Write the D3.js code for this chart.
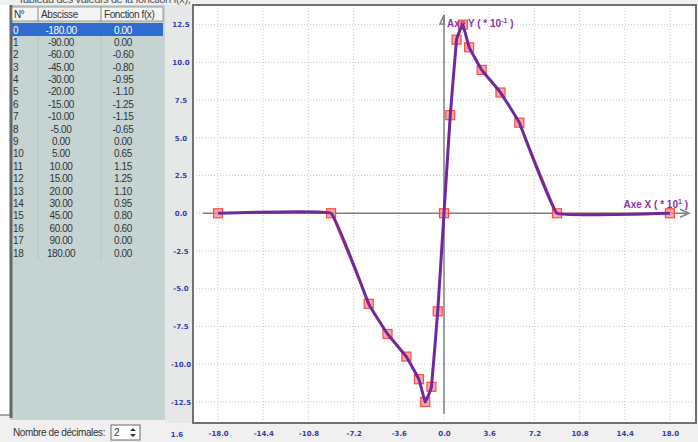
<!DOCTYPE html>
<html lang="fr">
<head>
<meta charset="UTF-8">
<title>Fonction f(x)</title>
<script src="https://d3js.org/d3.v7.min.js"></script>
<style>
  html, body { margin: 0; padding: 0; overflow: hidden; background: #f0f0f0; }
  svg { display: block; }
  .tbl { font-family: "Liberation Sans", Arial, sans-serif; font-size: 10px; fill: #333; letter-spacing: -0.4px; }
  .tick { font-family: "DejaVu Sans", sans-serif; font-size: 7px; font-weight: bold; fill: #3a3ab0; }
  .axlbl { font-family: "Liberation Sans", Arial, sans-serif; font-size: 10px; font-weight: bold; fill: #8a34a8; }
</style>
</head>
<body>
<script>
// table values (as in the reference)
const num = d3.range(0, 19);
const abscisse = [-180, -90, -60, -45, -30, -20, -15, -10, -5, 0, 5, 10, 15, 20, 30, 45, 60, 90, 180];
const fonction = [0, 0, -0.6, -0.8, -0.95, -1.1, -1.25, -1.15, -0.65, 0, 0.65, 1.15, 1.25, 1.1, 0.95, 0.8, 0.6, 0, 0];
// axis scaling : X (*10^1), Y (*10^-1)
const xFactor = 10, yFactor = 0.1;
const xTicks = [-18, -14.4, -10.8, -7.2, -3.6, 0, 3.6, 7.2, 10.8, 14.4, 18];
const yTicks = [-12.5, -10, -7.5, -5, -2.5, 0, 2.5, 5, 7.5, 10, 12.5];

const W = 698, H = 442;
const fmt2 = v => d3.format(".2f")(v).replace("\u2212", "-");
const fmt1 = v => d3.format(".1f")(v).replace("\u2212", "-");

const svg = d3.select("body").append("svg").attr("width", W).attr("height", H);

// title line, cut off at the top like in the screenshot
svg.append("text").attr("x", 18).attr("y", 3).attr("class", "tbl")
  .style("font-size", "11px").style("fill", "#555")
  .text("Tableau des valeurs de la fonction f(x),");

// ---------- left table ----------
const tbl = svg.append("g");
tbl.append("rect").attr("x", 0).attr("y", 5).attr("width", 10).attr("height", 410).attr("fill", "#fff");
tbl.append("line").attr("x1", 0).attr("x2", 10).attr("y1", 415).attr("y2", 415).attr("stroke", "#555");
tbl.append("rect").attr("x", 10).attr("y", 5).attr("width", 155).attr("height", 415).attr("fill", "#c6d3d3");
tbl.append("line").attr("x1", 11).attr("x2", 11).attr("y1", 5).attr("y2", 418).attr("stroke", "#666").attr("stroke-width", 3);
tbl.append("rect").attr("x", 12).attr("y", 7).attr("width", 151).attr("height", 14)
  .attr("fill", "#f4f4f4").attr("stroke", "#8a8a8a").attr("stroke-width", 0.8);
[38, 101].forEach(x => {
  tbl.append("line").attr("x1", x).attr("x2", x).attr("y1", 7).attr("y2", 21).attr("stroke", "#8a8a8a");
  tbl.append("line").attr("x1", x).attr("x2", x).attr("y1", 22).attr("y2", 260).attr("stroke", "#b0bcbc").attr("stroke-width", 0.6);
});
tbl.append("text").attr("class", "tbl").attr("x", 14).attr("y", 18).text("N°");
tbl.append("text").attr("class", "tbl").attr("x", 41).attr("y", 18).text("Abscisse");
tbl.append("text").attr("class", "tbl").attr("x", 104).attr("y", 18).text("Fonction f(x)");

const rowY = d3.scaleLinear().domain([0, 18]).range([30, 253]);
tbl.append("rect").attr("x", 12).attr("y", rowY(0) - 7).attr("width", 151).attr("height", 13).attr("fill", "#2f6cd0");
num.forEach(i => {
  const col = i === 0 ? "#fff" : "#333";
  const y = rowY(i) + 3.5;
  tbl.append("text").attr("class", "tbl").attr("x", 13).attr("y", y).style("fill", col).text(i);
  tbl.append("text").attr("class", "tbl").attr("x", 61).attr("y", y).attr("text-anchor", "middle").style("fill", col)
    .text(fmt2(abscisse[i]));
  tbl.append("text").attr("class", "tbl").attr("x", 123).attr("y", y).attr("text-anchor", "middle").style("fill", col)
    .text(fmt2(fonction[i]));
});

// bottom control
tbl.append("text").attr("class", "tbl").attr("x", 13).attr("y", 436).text("Nombre de décimales:");
tbl.append("rect").attr("x", 111).attr("y", 425).attr("width", 29).attr("height", 15)
  .attr("fill", "#fff").attr("stroke", "#666");
tbl.append("text").attr("class", "tbl").attr("x", 114).attr("y", 436).text("2");
tbl.append("path").attr("d", "M130,431 l3,-3 l3,3 z M130,434 l3,3 l3,-3 z").attr("fill", "#333");

// ---------- chart ----------
svg.append("rect").attr("x", 165).attr("y", 5).attr("width", 28).attr("height", 418).attr("fill", "#e6e8e8");

const x = d3.scaleLinear().domain([-20, 20]).range([193, 695]);
const y = d3.scaleLinear().domain([-13.9, 13.8]).range([423, 5]);

svg.append("rect").attr("x", 193).attr("y", 5).attr("width", 503).attr("height", 418)
  .attr("fill", "#fff").attr("stroke", "#707070").attr("stroke-width", 2);

const grid = svg.append("g").attr("stroke", "#c4ccd4").attr("stroke-width", 1).attr("stroke-dasharray", "1,2");
xTicks.forEach(t => grid.append("line").attr("x1", x(t)).attr("x2", x(t)).attr("y1", 8).attr("y2", 421));
yTicks.forEach(t => grid.append("line").attr("x1", 196).attr("x2", 694).attr("y1", y(t)).attr("y2", y(t)));

// tick labels (the frame stands in for the axis lines)
const xAxis = svg.append("g").attr("transform", "translate(0,423)")
  .call(d3.axisBottom(x).tickValues(xTicks).tickSize(0).tickPadding(8).tickFormat(fmt1));
const yAxis = svg.append("g").attr("transform", "translate(190,0)")
  .call(d3.axisLeft(y).tickValues(yTicks).tickSize(0).tickPadding(0).tickFormat(fmt1));
[xAxis, yAxis].forEach(a => {
  a.select(".domain").remove();
  a.selectAll("text").attr("class", "tick").attr("font-family", null).attr("font-size", null).attr("fill", null);
});
yAxis.selectAll("text").attr("text-anchor", "middle").attr("dx", -9);
svg.append("text").attr("class", "tick").attr("x", 177).attr("y", 437).attr("text-anchor", "middle").text("1.6");

// main axes with arrows
const ax = svg.append("g").attr("stroke", "#808080").attr("fill", "none").attr("stroke-width", 1.5);
ax.append("line").attr("x1", 203).attr("x2", 688).attr("y1", y(0)).attr("y2", y(0));
ax.append("path").attr("d", `M${680},${y(0) - 4} L689,${y(0)} L${680},${y(0) + 4}`);
ax.append("line").attr("x1", x(0)).attr("x2", x(0)).attr("y1", 15).attr("y2", 414);
ax.append("path").attr("d", `M${x(0) - 4},${24} L${x(0)},${15} L${x(0)},${24} Z`);

const pts = abscisse.map((a, i) => [a / xFactor, fonction[i] / yFactor]);

// thin red polyline
svg.append("path").datum(pts)
  .attr("d", d3.line().x(d => x(d[0])).y(d => y(d[1])))
  .attr("fill", "none").attr("stroke", "#ff4a4a").attr("stroke-width", 1.2);

// markers
svg.append("g").selectAll("rect").data(pts).join("rect")
  .attr("x", d => x(d[0]) - 4.5).attr("y", d => y(d[1]) - 4.5)
  .attr("width", 9).attr("height", 9)
  .attr("fill", "#ff8a8a").attr("fill-opacity", 0.75)
  .attr("stroke", "#ff4a4a").attr("stroke-width", 1.2);

// smooth purple curve (tight cardinal spline)
svg.append("path").datum(pts)
  .attr("d", d3.line().curve(d3.curveCardinal.tension(0.8)).x(d => x(d[0])).y(d => y(d[1])))
  .attr("fill", "none").attr("stroke", "#6e2a9a").attr("stroke-width", 3).attr("stroke-linejoin", "round");

// axis titles
const ty = svg.append("text").attr("class", "axlbl").attr("x", 447).attr("y", 27);
ty.append("tspan").text("Axe Y ( * 10");
ty.append("tspan").attr("dy", -4).style("font-size", "7px").text("-1");
ty.append("tspan").attr("dy", 4).text(" )");
const tx = svg.append("text").attr("class", "axlbl").attr("x", 688).attr("y", 208).attr("text-anchor", "end");
tx.append("tspan").text("Axe X ( * 10");
tx.append("tspan").attr("dy", -4).style("font-size", "7px").text("1");
tx.append("tspan").attr("dy", 4).text(" )");
</script>
</body>
</html>
